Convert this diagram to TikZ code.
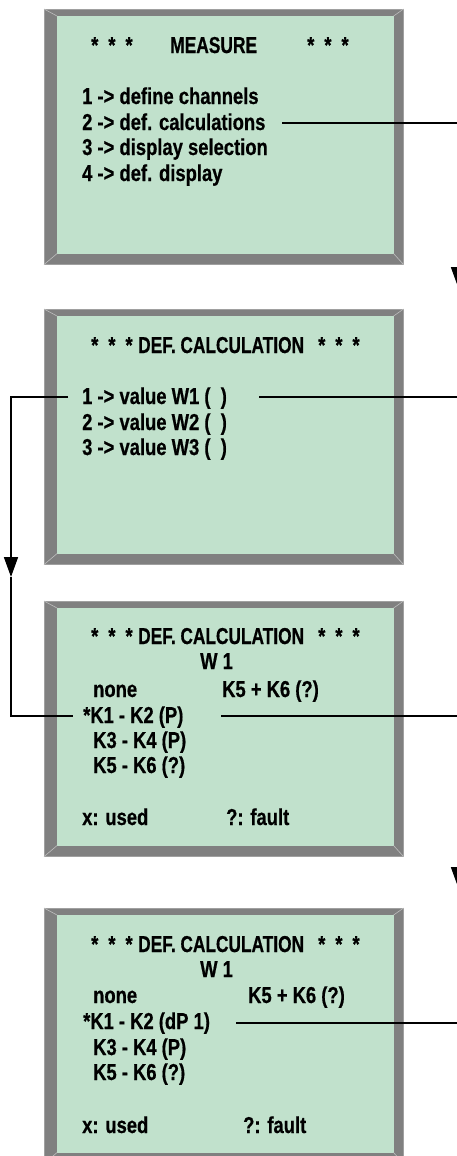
\documentclass[tikz,border=0pt]{standalone}
\usepackage{fontspec}
\usepackage{graphicx}
\usetikzlibrary{arrows.meta,calc}
\newfontfamily\lcdfont[FakeStretch=0.8,BoldFeatures={FakeBold=0.6}]{Liberation Sans}
\definecolor{lcdgreen}{RGB}{193,225,204}
\definecolor{framegray}{RGB}{128,128,128}
\definecolor{edgegray}{RGB}{160,160,160}
\definecolor{bevelgray}{RGB}{190,190,190}
\newcommand{\stars}{*\hspace{10pt}*\hspace{10pt}*}
\tikzset{
  screen/.style={fill=framegray, draw=edgegray, line width=0.6pt, inner sep=0pt,
    minimum width=359pt, minimum height=255pt, anchor=north west},
  txt/.style={anchor=base west, inner sep=0pt, font=\lcdfont\bfseries\fontsize{23}{26}\selectfont},
  conn/.style={line width=1.7pt, line join=miter, line cap=butt},
  tip/.style={-{Triangle[length=20pt,width=14pt]}},
}
\newcommand{\lcdscreen}[2]{%
  \node[screen] (#1) at (44,#2) {};
  \fill[lcdgreen] ($(#1.north west)+(13,7)$) rectangle ($(#1.south east)+(-10,-11)$);
  \draw[bevelgray, line width=0.6pt] (#1.north west) -- ++(13,7);
  \draw[bevelgray, line width=0.6pt] (#1.north east) -- ++(-10,7);
  \draw[bevelgray, line width=0.6pt] (#1.south west) -- ++(13,-11);
  \draw[bevelgray, line width=0.6pt] (#1.south east) -- ++(-10,-11);
}
\newcommand{\deftitle}{\scalebox{0.94}[1]{DEF. CALCULATION}}
\begin{document}
\begin{tikzpicture}[x=1pt,y=-1pt]
\useasboundingbox (0,0) rectangle (457,1156);
\clip (0,0) rectangle (457,1156);
\fill[white] (0,0) rectangle (457,1156);

% screens
\lcdscreen{s1}{9}
\lcdscreen{s2}{309}
\lcdscreen{s3}{601}
\lcdscreen{s4}{908}

% screen 1
\node[txt] (s1ta) at (91,53) {\stars};
\node[txt] (s1tb) at (170,53) {\scalebox{0.945}[1]{MEASURE}};
\node[txt] (s1tc) at (307,53) {\stars};
\node[txt] (s1r1) at (82,104) {1 -> define channels};
\node[txt] (s1r2) at (82,130) {2 -> def. calculations};
\node[txt] (s1r3) at (82,155) {3 -> display selection};
\node[txt] (s1r4) at (82,181) {4 -> def. display};

% screen 2
\node[txt] (s2ta) at (91,353) {\stars};
\node[txt] (s2tb) at (138,353) {\deftitle};
\node[txt] (s2tc) at (318,353) {\stars};
\node[txt] (s2r1) at (82,404) {1 -> value W1 (~~)};
\node[txt] (s2r2) at (82,430) {2 -> value W2 (~~)};
\node[txt] (s2r3) at (82,455) {3 -> value W3 (~~)};

% screen 3
\node[txt] (s3ta) at (91,644) {\stars};
\node[txt] (s3tb) at (138,644) {\deftitle};
\node[txt] (s3tc) at (318,644) {\stars};
\node[txt] (s3w) at (200,669) {W 1};
\node[txt] (s3n) at (93,697) {none};
\node[txt] (s3s) at (222,697) {K5 + K6 (?)};
\node[txt] (s3r1) at (83,723) {*K1 - K2 (P)};
\node[txt] (s3r2) at (93,748) {K3 - K4 (P)};
\node[txt] (s3r3) at (93,773) {K5 - K6 (?)};
\node[txt] (s3u) at (82,825) {x: used};
\node[txt] (s3f) at (226,825) {?: fault};

% screen 4
\node[txt] (s4ta) at (91,952) {\stars};
\node[txt] (s4tb) at (138,952) {\deftitle};
\node[txt] (s4tc) at (318,952) {\stars};
\node[txt] (s4w) at (200,977) {W 1};
\node[txt] (s4n) at (93,1003) {none};
\node[txt] (s4s) at (248,1003) {K5 + K6 (?)};
\node[txt] (s4r1) at (83,1029) {*K1 - K2 (dP 1)};
\node[txt] (s4r2) at (93,1055) {K3 - K4 (P)};
\node[txt] (s4r3) at (93,1080) {K5 - K6 (?)};
\node[txt] (s4u) at (82,1133) {x: used};
\node[txt] (s4f) at (243,1133) {?: fault};

% connector coordinates
\coordinate (a1) at (282,123);
\coordinate (a2) at (470,123);
\coordinate (h1s) at (458,262);
\coordinate (h1e) at (458,287);
\coordinate (b1) at (259,397);
\coordinate (b2) at (470,397);
\coordinate (c1) at (221,716);
\coordinate (c2) at (458,716);
\coordinate (c3) at (458,887);
\coordinate (d1) at (236,1023);
\coordinate (d2) at (470,1023);
\coordinate (e1) at (68,397);
\coordinate (e2) at (11,397);
\coordinate (e3) at (11,577);
\coordinate (e4) at (11,716);
\coordinate (e5) at (73,716);

% connectors
\draw[conn] (a1) -- (a2);
\draw[conn, tip] (h1s) -- (h1e);
\draw[conn] (b1) -- (b2);
\draw[conn, tip] (c1) -- (c2) -- (c3);
\draw[conn] (d1) -- (d2);
\draw[conn, tip] (e1) -- (e2) -- (e3);
\draw[conn] (e3) -- (e4) -- (e5);
\end{tikzpicture}
\end{document}
